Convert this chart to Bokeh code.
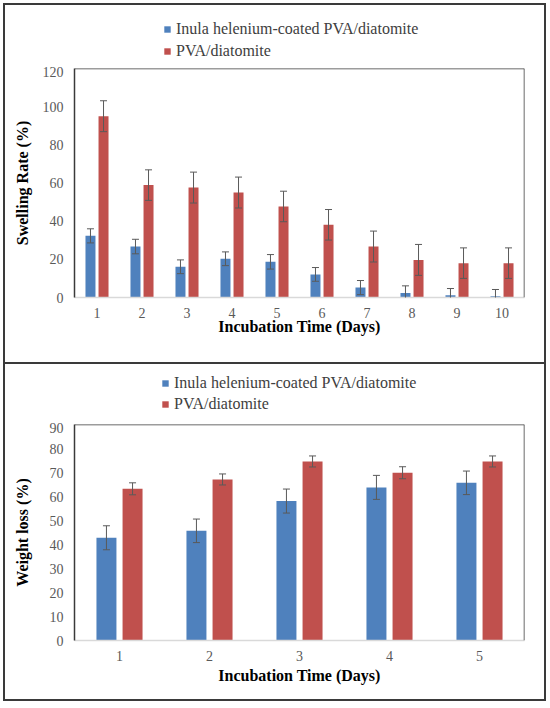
from bokeh.plotting import figure
from bokeh.models import (ColumnDataSource, Whisker, TeeHead, FixedTicker, Legend,
                          LegendItem, Range1d, Span, Div)
from bokeh.layouts import column, row
from bokeh.transform import dodge
from bokeh.embed import file_html
from bokeh.resources import INLINE

# ---------------- data ----------------
series_names = ["Inula helenium-coated PVA/diatomite", "PVA/diatomite"]

swell_days = [1, 2, 3, 4, 5, 6, 7, 8, 9, 10]
swell_coated = [32.3, 26.7, 16.1, 20.3, 18.7, 12.1, 5.2, 2.4, 1.2, 0.7]
swell_coated_err = [3.7, 3.8, 3.6, 3.6, 3.8, 3.6, 3.7, 3.7, 3.5, 3.5]
swell_pva = [95.0, 58.9, 57.6, 55.0, 47.7, 38.1, 26.7, 19.7, 18.0, 18.0]
swell_pva_err = [8.1, 8.0, 8.1, 8.1, 8.0, 8.0, 8.1, 8.1, 8.0, 8.0]
swell_yticks = [0, 20, 40, 60, 80, 100, 120]

weight_days = [1, 2, 3, 4, 5]
weight_coated = [42.8, 45.7, 58.1, 63.8, 65.7]
weight_coated_err = [5.0, 4.9, 5.0, 5.0, 4.9]
weight_pva = [63.2, 67.1, 74.6, 69.9, 74.6]
weight_pva_err = [2.5, 2.3, 2.3, 2.5, 2.3]
weight_yticks = [0, 10, 20, 30, 40, 50, 60, 70, 80, 90]

BLUE = "#4F81BD"
RED = "#C0504D"
ERR = "#5a5a5a"
FRAME = "#3a3a3a"
FONT = "Liberation Serif"
W = 539


def make_source(days, coated, c_err, pva, p_err):
    return ColumnDataSource(dict(
        x=days, c=coated, p=pva,
        c_up=[v + e for v, e in zip(coated, c_err)],
        c_lo=[v - e for v, e in zip(coated, c_err)],
        p_up=[v + e for v, e in zip(pva, p_err)],
        p_lo=[v - e for v, e in zip(pva, p_err)],
    ))


def make_legend_fig(src, height, leg_xy, spacing):
    # legend strip above the chart; its view range lies away from the data,
    # so only the legend entries themselves are visible
    lf = figure(width=W, height=height, output_backend="svg", toolbar_location=None,
                x_range=Range1d(-2, -1), y_range=Range1d(0, 1),
                x_axis_location=None, y_axis_location=None,
                min_border_left=0, min_border_right=0,
                min_border_top=0, min_border_bottom=0,
                outline_line_color=None, background_fill_color="white",
                border_fill_color="white")
    lf.frame_align = False
    lf.grid.visible = False
    g1 = lf.vbar(x="x", top="c", width=0.2, source=src, fill_color=BLUE, line_color=None)
    g2 = lf.vbar(x="x", top="p", width=0.2, source=src, fill_color=RED, line_color=None)
    legend = Legend(items=[LegendItem(label=series_names[0], renderers=[g1]),
                           LegendItem(label=series_names[1], renderers=[g2])],
                    location=leg_xy, orientation="vertical",
                    glyph_width=8, glyph_height=8, label_standoff=5,
                    label_height=16, label_width=10,
                    spacing=spacing, padding=0, margin=0,
                    border_line_color=None, background_fill_alpha=0,
                    label_text_font=FONT, label_text_font_size="16px",
                    label_text_color="#404040")
    lf.add_layout(legend)
    return lf


def make_chart(src, days, yticks, ylabel, height, b_bottom,
               x_standoff, tick_standoff, y_standoff):
    x0, x1 = days[0] - 0.5, days[-1] + 0.5
    y0, y1 = yticks[0], yticks[-1]
    p = figure(width=W, height=height, output_backend="svg", toolbar_location=None,
               x_range=Range1d(x0, x1), y_range=Range1d(y0, y1),
               min_border_left=69, min_border_right=20,
               min_border_top=2, min_border_bottom=b_bottom,
               outline_line_color=None, background_fill_color="white",
               border_fill_color="white")
    p.frame_align = False
    p.grid.visible = False

    w = 0.222
    off = 0.145
    p.vbar(x=dodge("x", -off, range=p.x_range), top="c", width=w, source=src,
           fill_color=BLUE, line_color=None)
    p.vbar(x=dodge("x", off, range=p.x_range), top="p", width=w, source=src,
           fill_color=RED, line_color=None)

    for base, up, lo in ((dodge("x", -off, range=p.x_range), "c_up", "c_lo"),
                         (dodge("x", off, range=p.x_range), "p_up", "p_lo")):
        wh = Whisker(source=src, base=base, upper=up, lower=lo,
                     line_color=ERR, line_width=1, level="annotation",
                     upper_head=TeeHead(size=7, line_color=ERR, line_width=1),
                     lower_head=TeeHead(size=7, line_color=ERR, line_width=1))
        p.add_layout(wh)

    # top and right edges of the plot box
    p.add_layout(Span(location=y1, dimension="width", line_color=FRAME, line_width=1.5))
    p.add_layout(Span(location=x1, dimension="height", line_color=FRAME, line_width=1.5))

    xa = p.xaxis[0]
    xa.ticker = FixedTicker(ticks=days)
    xa.axis_line_color = "#d9d9d9"
    xa.axis_line_width = 1.5
    xa.major_tick_line_color = None
    xa.minor_tick_line_color = None
    xa.major_tick_out = 0
    xa.major_tick_in = 0
    xa.minor_tick_out = 0
    xa.major_label_text_font = FONT
    xa.major_label_text_font_size = "14px"
    xa.major_label_text_color = "#595959"
    xa.major_label_standoff = tick_standoff
    xa.axis_label = "Incubation Time (Days)"
    xa.axis_label_text_font = FONT
    xa.axis_label_text_font_size = "16px"
    xa.axis_label_text_font_style = "bold"
    xa.axis_label_text_color = "black"
    xa.axis_label_standoff = x_standoff

    ya = p.yaxis[0]
    ya.ticker = FixedTicker(ticks=yticks)
    ya.axis_line_color = FRAME
    ya.axis_line_width = 1.5
    ya.major_tick_line_color = None
    ya.minor_tick_line_color = None
    ya.major_tick_out = 0
    ya.major_tick_in = 0
    ya.minor_tick_out = 0
    ya.major_label_text_font = FONT
    ya.major_label_text_font_size = "14px"
    ya.major_label_text_color = "#595959"
    ya.major_label_standoff = 11
    ya.axis_label = ylabel
    ya.axis_label_text_font = FONT
    ya.axis_label_text_font_size = "16px"
    ya.axis_label_text_font_style = "bold"
    ya.axis_label_text_color = "black"
    ya.axis_label_standoff = y_standoff
    return p


src1 = make_source(swell_days, swell_coated, swell_coated_err, swell_pva, swell_pva_err)
src2 = make_source(weight_days, weight_coated, weight_coated_err, weight_pva, weight_pva_err)

leg1 = make_legend_fig(src1, 61, (158, 6), 4)
p1 = make_chart(src1, swell_days, swell_yticks, "Swelling Rate (%)", 296, 65, -3, 10, 9)
leg2 = make_legend_fig(src2, 58, (156, 9), 3)
p2 = make_chart(src2, weight_days, weight_yticks, "Weight loss (%)", 277, 59, 3, 10, 16)


def line(wd, ht):
    return Div(text="", width=wd, height=ht, margin=0,
               styles={"background-color": FRAME})


H_TOTAL = 2 + 61 + 296 + 2 + 58 + 277 + 2
inner = column(line(W, 2), leg1, p1, line(W, 2), leg2, p2, line(W, 2), spacing=0)
layout = row(line(2, H_TOTAL), inner, line(2, H_TOTAL), spacing=0, margin=(3, 0, 0, 3))

open("out.html", "w").write(file_html(layout, INLINE))
